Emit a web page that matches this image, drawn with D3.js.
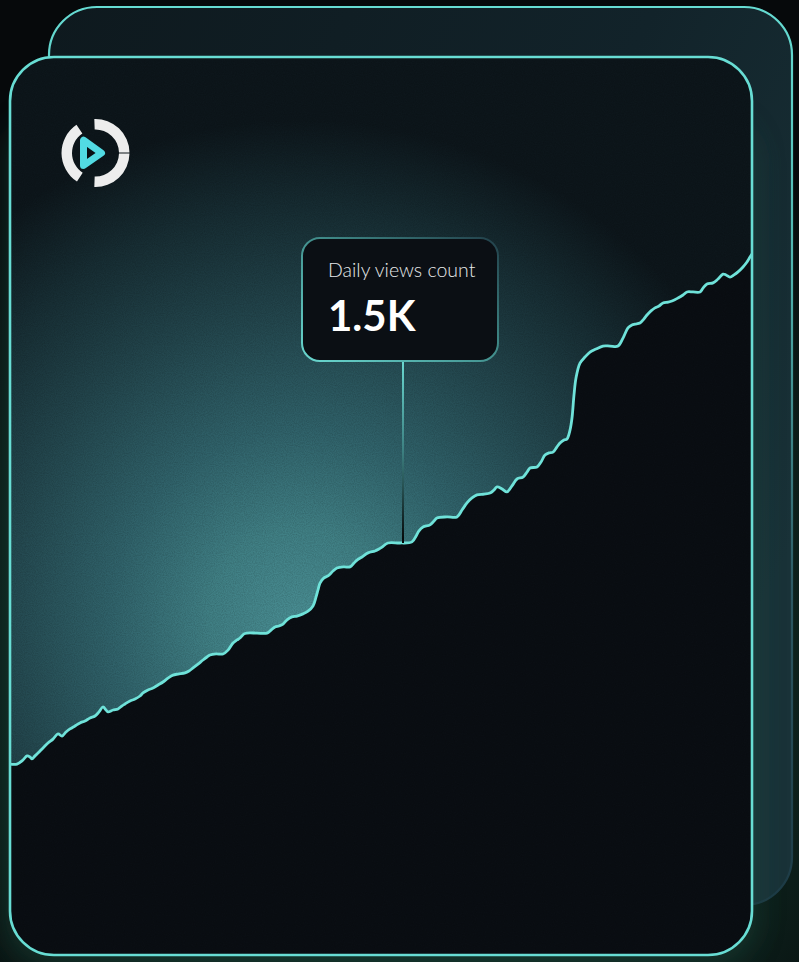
<!DOCTYPE html>
<html>
<head>
<meta charset="utf-8">
<script src="https://cdn.jsdelivr.net/npm/d3@7"></script>
<style>
  html, body { margin: 0; padding: 0; background: #080b0d; }
  svg { display: block; }
</style>
</head>
<body>
<div id="chart"></div>
<script>
// ---- data ----
const days = [0,3.5,6.5,8.5,10,11,12.5,14,16.5,19,21.5,24,26,28,30,32.5,35,37.5,40,42.5,44.5,46.5,48,49,51.5,54,56,57.5,60,62.5,65,66.5,69,71.5,74,76.5,79,81.5,84,87.5,89.5,91.5,94,96.5,98.5,100,103,106.5,109,111.5,113.5,115,117,118.5,123.5,128.5,130.5,132.5,134.5,136.5,138.5,141,143.5,146.5,149,151.5,153,154,155,157,159,161.5,163.5,167,170,172,173.5,176,179,182.5,184.5,186,189,195,201,203,204.5,206.5,210,212,213.5,218.5,223.5,226,228.5,231,233.5,237,240,242,243.5,246,248.5,251,253.5,256.5,258.5,260,263.5,265.5,267.5,269.5,271.5,273.5,275,277,278.5,280,281,282,283,285,287.5,290,293,296.5,300,304,306.5,309,311,312.5,315,317,318.5,320.5,322.5,324.5,326.5,329,331,334,336.5,338.5,341.5,345,346.5,348.5,351.5,354,356.5,358,360,362,364,366.5,368.5,370,371];
const views = [695,695,710,725,721,714,725,735,754,772,786,805,797,812,823,834,845,852,863,870,885,903,892,885,892,896,907,914,925,932,943,954,965,972,983,994,1008,1019,1023,1027,1034,1045,1059,1074,1085,1092,1096,1096,1110,1136,1147,1154,1169,1172,1172,1172,1183,1194,1198,1205,1220,1231,1234,1242,1252,1271,1303,1329,1354,1373,1380,1398,1409,1413,1413,1427,1438,1449,1464,1471,1478,1485,1500,1500,1504,1525,1544,1558,1566,1580,1591,1595,1595,1620,1646,1664,1675,1678,1682,1693,1704,1697,1686,1708,1733,1740,1758,1773,1777,1795,1820,1828,1831,1850,1864,1875,1879,1911,1955,2039,2101,2155,2177,2195,2206,2217,2217,2217,2246,2283,2294,2297,2301,2316,2330,2345,2356,2363,2374,2377,2381,2392,2403,2414,2414,2414,2428,2443,2447,2461,2479,2476,2468,2476,2487,2505,2523,2541,2552];
const tooltipTitle = "Daily views count";
const tooltipValueLabel = "1.5K";
const tooltipDay = 196.5;
const tooltipValue = 1500;
const xDomain = [0, 371];
const yRef = [0, 1500];

// ---- layout ----
const W = 799, H = 962;
const front = {x: 10, y: 57, w: 742, h: 898, r: 44};
const back  = {x: 49, y: 7,  w: 743, h: 898, r: 48};

const data = days.map((d, i) => ({d, v: views[i]}));

const svg = d3.select("#chart").append("svg")
  .attr("width", W).attr("height", H).attr("viewBox", `0 0 ${W} ${H}`);
const defs = svg.append("defs");

// scales
const x = d3.scaleLinear().domain(xDomain).range([front.x, front.x + front.w]);
const y = d3.scaleLinear().domain(yRef).range([955, 543]);

// gradients / filters
const bgGlow = defs.append("radialGradient").attr("id", "bgGlow")
  .attr("gradientUnits", "userSpaceOnUse").attr("cx", 420).attr("cy", 660).attr("r", 620);
bgGlow.append("stop").attr("offset", "0").attr("stop-color", "#123a30");
bgGlow.append("stop").attr("offset", "0.7").attr("stop-color", "#0c1d19");
bgGlow.append("stop").attr("offset", "1").attr("stop-color", "#06090b");

const blur = defs.append("filter").attr("id", "blur")
  .attr("x", "-20%").attr("y", "-20%").attr("width", "140%").attr("height", "140%");
blur.append("feGaussianBlur").attr("stdDeviation", 14);

const backFill = defs.append("linearGradient").attr("id", "backFill")
  .attr("x1", "0").attr("y1", "0").attr("x2", "1").attr("y2", "0.6");
backFill.append("stop").attr("offset", "0").attr("stop-color", "#0e191e");
backFill.append("stop").attr("offset", "0.6").attr("stop-color", "#12232a");
backFill.append("stop").attr("offset", "1").attr("stop-color", "#193238");

const backStroke = defs.append("linearGradient").attr("id", "backStroke")
  .attr("gradientUnits", "userSpaceOnUse")
  .attr("x1", 0).attr("y1", back.y).attr("x2", 0).attr("y2", back.y + back.h);
backStroke.append("stop").attr("offset", "0").attr("stop-color", "#66dcd3");
backStroke.append("stop").attr("offset", "0.3").attr("stop-color", "#4fb2ad");
backStroke.append("stop").attr("offset", "0.65").attr("stop-color", "#2c5862");
backStroke.append("stop").attr("offset", "1").attr("stop-color", "#1d3a45");

const glow = defs.append("radialGradient").attr("id", "glow")
  .attr("gradientUnits", "userSpaceOnUse").attr("cx", 300).attr("cy", 620).attr("r", 500);
[[0, "#498d92"], [0.18, "#407f84"], [0.38, "#30626a"], [0.62, "#22444b"], [0.82, "#172d33"], [1, "#0d161b"]]
  .forEach(([o, c]) => glow.append("stop").attr("offset", o).attr("stop-color", c));

const tipStroke = defs.append("linearGradient").attr("id", "tipStroke")
  .attr("x1", "0").attr("y1", "1").attr("x2", "1").attr("y2", "0");
tipStroke.append("stop").attr("offset", "0").attr("stop-color", "#6ad8d0");
tipStroke.append("stop").attr("offset", "0.55").attr("stop-color", "#3f8a88");
tipStroke.append("stop").attr("offset", "1").attr("stop-color", "#22404a");

const noise = defs.append("filter").attr("id", "noise")
  .attr("x", 0).attr("y", 0).attr("width", "100%").attr("height", "100%");
noise.append("feTurbulence").attr("type", "fractalNoise").attr("baseFrequency", 0.9)
  .attr("numOctaves", 2).attr("seed", 3).attr("result", "t");
noise.append("feColorMatrix").attr("type", "matrix")
  .attr("values", "0 0 0 0 0  0 0 0 0 0  0 0 0 0 0  0 0 0 -1.6 1.1");

defs.append("clipPath").attr("id", "frontClip")
  .append("rect").attr("x", front.x).attr("y", front.y).attr("width", front.w)
  .attr("height", front.h).attr("rx", front.r);

// background
svg.append("rect").attr("width", W).attr("height", H).attr("fill", "url(#bgGlow)");

// back card
svg.append("rect").attr("x", back.x).attr("y", back.y).attr("width", back.w).attr("height", back.h)
  .attr("rx", back.r).attr("fill", "url(#backFill)")
  .attr("stroke", "url(#backStroke)").attr("stroke-width", 2.2);

// glow behind front card
svg.append("rect").attr("x", front.x - 4).attr("y", front.y + 60).attr("width", front.w + 8)
  .attr("height", front.h - 50).attr("rx", front.r).attr("fill", "#1a4a3e").attr("opacity", 0.5)
  .attr("filter", "url(#blur)");

// front card
svg.append("rect").attr("x", front.x).attr("y", front.y).attr("width", front.w).attr("height", front.h)
  .attr("rx", front.r).attr("fill", "#0a0e13");

const plot = svg.append("g").attr("clip-path", "url(#frontClip)");

// area above the line with glow
const curve = d3.curveCatmullRom.alpha(0.5);
const area = d3.area()
  .x(d => x(d.d))
  .y0(front.y)
  .y1(d => y(d.v))
  .curve(curve);
plot.append("path").datum(data).attr("d", area).attr("fill", "url(#glow)");

// grain overlay
plot.append("rect").attr("x", front.x).attr("y", front.y).attr("width", front.w).attr("height", front.h)
  .attr("filter", "url(#noise)").attr("opacity", 0.15);

// line
const line = d3.line().x(d => x(d.d)).y(d => y(d.v)).curve(curve);
plot.append("path").datum(data).attr("d", line)
  .attr("fill", "none").attr("stroke", "#6fe2d9").attr("stroke-width", 2.8)
  .attr("stroke-linejoin", "round").attr("stroke-linecap", "round");

// front border
svg.append("rect").attr("x", front.x).attr("y", front.y).attr("width", front.w).attr("height", front.h)
  .attr("rx", front.r).attr("fill", "none").attr("stroke", "#68ddd4").attr("stroke-width", 2.6);

// tooltip
const ax = x(tooltipDay), ay = y(tooltipValue);
const tip = {w: 196, h: 123};
const tipX = ax - 101, tipY = 238;
const stem = defs.append("linearGradient").attr("id", "stem")
  .attr("gradientUnits", "userSpaceOnUse")
  .attr("x1", 0).attr("y1", tipY + tip.h).attr("x2", 0).attr("y2", ay);
stem.append("stop").attr("offset", "0").attr("stop-color", "#6ad8d0");
stem.append("stop").attr("offset", "0.5").attr("stop-color", "#3c7f80");
stem.append("stop").attr("offset", "1").attr("stop-color", "#030506");
svg.append("rect").attr("x", ax - 1).attr("y", tipY + tip.h).attr("width", 2).attr("height", ay - tipY - tip.h)
  .attr("fill", "url(#stem)");
svg.append("rect").attr("x", tipX).attr("y", tipY).attr("width", tip.w).attr("height", tip.h)
  .attr("rx", 18).attr("fill", "#0b0f14").attr("stroke", "url(#tipStroke)").attr("stroke-width", 2);
svg.append("text").attr("x", tipX + 26).attr("y", tipY + 39)
  .attr("font-family", "Lato, 'Open Sans', sans-serif").attr("font-weight", 300)
  .attr("font-size", 19.5).attr("fill", "#e6e9ea").text(tooltipTitle);
svg.append("text").attr("x", tipX + 26).attr("y", tipY + 93)
  .attr("font-family", "Lato, 'Open Sans', sans-serif").attr("font-weight", 700)
  .attr("font-size", 42).attr("fill", "#ffffff").text(tooltipValueLabel);

// logo
const lg = svg.append("g").attr("transform", "translate(95.5,153)");
const arc = d3.arc().innerRadius(23.5).outerRadius(34);
const deg = a => a * Math.PI / 180;
[[213, 326], [-2, 89], [91, 182]].forEach(([a0, a1]) => {
  lg.append("path").attr("d", arc({startAngle: deg(a0), endAngle: deg(a1)})).attr("fill", "#ededed");
});
lg.append("path").attr("d", "M-12,-12.8 L-12,12.5 L6,0 Z")
  .attr("fill", "#0a0e13").attr("stroke", "#52dbe3").attr("stroke-width", 7)
  .attr("stroke-linejoin", "round");
</script>
</body>
</html>
